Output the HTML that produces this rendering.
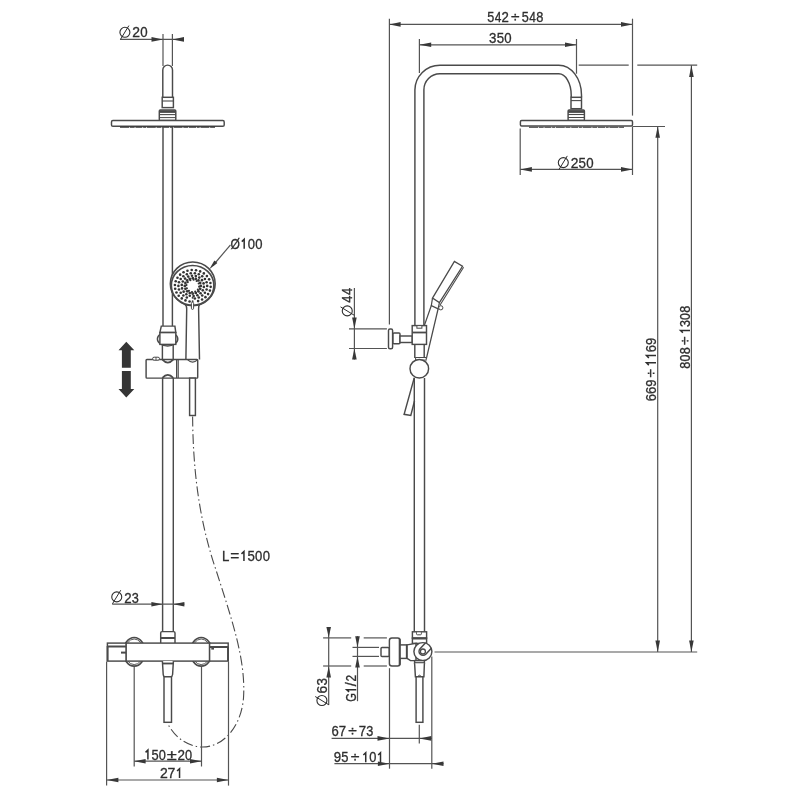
<!DOCTYPE html>
<html><head><meta charset="utf-8"><style>
html,body{margin:0;padding:0;background:#fff;}
svg{display:block;will-change:transform;font-family:"Liberation Sans",sans-serif;}
</style></head><body>
<svg width="800" height="800" viewBox="0 0 800 800">
<rect width="800" height="800" fill="#fff"/>
<line x1="120" y1="39.4" x2="184" y2="39.4" stroke="#545454" stroke-width="1.2" />
<polygon points="163,39.4 151.50,37.10 151.50,41.70" fill="#383838"/>
<polygon points="172.4,39.4 184.00,41.70 184.00,37.10" fill="#383838"/>
<line x1="163" y1="34" x2="163" y2="66" stroke="#545454" stroke-width="1.2" />
<line x1="172.4" y1="34" x2="172.4" y2="66" stroke="#545454" stroke-width="1.2" />
<g><circle cx="124.9" cy="32.3" r="5" fill="none" stroke="#2e2e2e" stroke-width="1.1"/><line x1="120.60000000000001" y1="39.199999999999996" x2="128.9" y2="25.599999999999998" stroke="#2e2e2e" stroke-width="1.0"/></g>
<g transform="translate(133 37.1)"><text x="-0.70" y="0" textLength="7.74" font-size="14.2" lengthAdjust="spacingAndGlyphs" fill="#2e2e2e" stroke="#2e2e2e" stroke-width="0.3">2</text><text x="7.14" y="0" textLength="7.38" font-size="14.2" lengthAdjust="spacingAndGlyphs" fill="#2e2e2e" stroke="#2e2e2e" stroke-width="0.3">0</text></g>
<path d="M162.8,97.5 V70 A4.85,4.85 0 0 1 172.5,70 V97.5" stroke="#4a4a4a" stroke-width="1.45" fill="none" />
<rect x="162.2" y="97.3" width="11.20" height="10.30" rx="0" stroke="#4a4a4a" stroke-width="1.45" fill="#fff"/>
<line x1="162.2" y1="101" x2="173.4" y2="101" stroke="#4a4a4a" stroke-width="1.1" />
<rect x="159.3" y="110" width="16.50" height="10.40" rx="1" stroke="#4a4a4a" stroke-width="1.45" fill="#fff"/>
<line x1="159.3" y1="111.6" x2="175.8" y2="111.6" stroke="#4a4a4a" stroke-width="2.6" />
<line x1="159.3" y1="114.6" x2="175.8" y2="114.6" stroke="#4a4a4a" stroke-width="1.1" />
<line x1="159.3" y1="117.6" x2="175.8" y2="117.6" stroke="#4a4a4a" stroke-width="1.0" />
<rect x="111.5" y="120.5" width="112.70" height="5.80" rx="1.4" stroke="#4a4a4a" stroke-width="1.45" fill="#fff"/>
<line x1="120" y1="127.1" x2="215" y2="127.1" stroke="#333" stroke-width="1.1" stroke-dasharray="9 0.7 5 0.7 7 0.7 3 0.7"/>
<line x1="163" y1="127" x2="163" y2="326" stroke="#4a4a4a" stroke-width="1.45" />
<line x1="172.4" y1="127" x2="172.4" y2="326" stroke="#4a4a4a" stroke-width="1.45" />
<ellipse cx="192.75" cy="283.8" rx="22.4" ry="21.8" stroke="#4a4a4a" stroke-width="1.6" fill="#fff"/>
<ellipse cx="192.6" cy="285.4" rx="21.3" ry="19.9" stroke="#4a4a4a" stroke-width="1.7" fill="#fff"/>
<circle cx="210.67" cy="286.85" r="1.3" fill="#333"/>
<circle cx="209.89" cy="290.62" r="1.3" fill="#333"/>
<circle cx="208.12" cy="294.12" r="1.3" fill="#333"/>
<circle cx="205.46" cy="297.14" r="1.3" fill="#333"/>
<circle cx="202.07" cy="299.50" r="1.3" fill="#333"/>
<circle cx="198.13" cy="301.08" r="1.3" fill="#333"/>
<circle cx="189.58" cy="301.54" r="1.3" fill="#333"/>
<circle cx="185.46" cy="300.40" r="1.3" fill="#333"/>
<circle cx="181.77" cy="298.42" r="1.3" fill="#333"/>
<circle cx="178.71" cy="295.71" r="1.3" fill="#333"/>
<circle cx="176.48" cy="292.43" r="1.3" fill="#333"/>
<circle cx="175.19" cy="288.77" r="1.3" fill="#333"/>
<circle cx="174.93" cy="284.95" r="1.3" fill="#333"/>
<circle cx="175.71" cy="281.18" r="1.3" fill="#333"/>
<circle cx="177.48" cy="277.68" r="1.3" fill="#333"/>
<circle cx="180.14" cy="274.66" r="1.3" fill="#333"/>
<circle cx="183.53" cy="272.30" r="1.3" fill="#333"/>
<circle cx="187.47" cy="270.72" r="1.3" fill="#333"/>
<circle cx="191.71" cy="270.03" r="1.3" fill="#333"/>
<circle cx="196.02" cy="270.26" r="1.3" fill="#333"/>
<circle cx="200.14" cy="271.40" r="1.3" fill="#333"/>
<circle cx="203.83" cy="273.38" r="1.3" fill="#333"/>
<circle cx="206.89" cy="276.09" r="1.3" fill="#333"/>
<circle cx="209.12" cy="279.37" r="1.3" fill="#333"/>
<circle cx="210.41" cy="283.03" r="1.3" fill="#333"/>
<circle cx="207.20" cy="285.90" r="1.3" fill="#333"/>
<circle cx="206.62" cy="289.51" r="1.3" fill="#333"/>
<circle cx="204.91" cy="292.82" r="1.3" fill="#333"/>
<circle cx="202.23" cy="295.57" r="1.3" fill="#333"/>
<circle cx="198.78" cy="297.54" r="1.3" fill="#333"/>
<circle cx="194.85" cy="298.57" r="1.3" fill="#333"/>
<circle cx="186.82" cy="297.54" r="1.3" fill="#333"/>
<circle cx="183.37" cy="295.57" r="1.3" fill="#333"/>
<circle cx="180.69" cy="292.82" r="1.3" fill="#333"/>
<circle cx="178.98" cy="289.51" r="1.3" fill="#333"/>
<circle cx="178.40" cy="285.90" r="1.3" fill="#333"/>
<circle cx="178.98" cy="282.29" r="1.3" fill="#333"/>
<circle cx="180.69" cy="278.98" r="1.3" fill="#333"/>
<circle cx="183.37" cy="276.23" r="1.3" fill="#333"/>
<circle cx="186.82" cy="274.26" r="1.3" fill="#333"/>
<circle cx="190.75" cy="273.23" r="1.3" fill="#333"/>
<circle cx="194.85" cy="273.23" r="1.3" fill="#333"/>
<circle cx="198.78" cy="274.26" r="1.3" fill="#333"/>
<circle cx="202.23" cy="276.23" r="1.3" fill="#333"/>
<circle cx="204.91" cy="278.98" r="1.3" fill="#333"/>
<circle cx="206.62" cy="282.29" r="1.3" fill="#333"/>
<circle cx="203.84" cy="286.92" r="1.3" fill="#333"/>
<circle cx="202.80" cy="290.33" r="1.3" fill="#333"/>
<circle cx="200.55" cy="293.20" r="1.3" fill="#333"/>
<circle cx="197.36" cy="295.20" r="1.3" fill="#333"/>
<circle cx="193.63" cy="296.07" r="1.3" fill="#333"/>
<circle cx="189.79" cy="295.72" r="1.3" fill="#333"/>
<circle cx="186.32" cy="294.18" r="1.3" fill="#333"/>
<circle cx="183.63" cy="291.64" r="1.3" fill="#333"/>
<circle cx="182.04" cy="288.41" r="1.3" fill="#333"/>
<circle cx="181.76" cy="284.88" r="1.3" fill="#333"/>
<circle cx="182.80" cy="281.47" r="1.3" fill="#333"/>
<circle cx="185.05" cy="278.60" r="1.3" fill="#333"/>
<circle cx="188.24" cy="276.60" r="1.3" fill="#333"/>
<circle cx="191.97" cy="275.73" r="1.3" fill="#333"/>
<circle cx="195.81" cy="276.08" r="1.3" fill="#333"/>
<circle cx="199.28" cy="277.62" r="1.3" fill="#333"/>
<circle cx="201.97" cy="280.16" r="1.3" fill="#333"/>
<circle cx="203.56" cy="283.39" r="1.3" fill="#333"/>
<circle cx="200.80" cy="285.90" r="1.35" fill="#333"/>
<circle cx="200.19" cy="288.85" r="1.35" fill="#333"/>
<circle cx="198.46" cy="291.34" r="1.35" fill="#333"/>
<circle cx="195.86" cy="293.01" r="1.35" fill="#333"/>
<circle cx="192.80" cy="293.60" r="1.35" fill="#333"/>
<circle cx="189.74" cy="293.01" r="1.35" fill="#333"/>
<circle cx="187.14" cy="291.34" r="1.35" fill="#333"/>
<circle cx="185.41" cy="288.85" r="1.35" fill="#333"/>
<circle cx="184.80" cy="285.90" r="1.35" fill="#333"/>
<circle cx="185.41" cy="282.95" r="1.35" fill="#333"/>
<circle cx="187.14" cy="280.46" r="1.35" fill="#333"/>
<circle cx="189.74" cy="278.79" r="1.35" fill="#333"/>
<circle cx="192.80" cy="278.20" r="1.35" fill="#333"/>
<circle cx="195.86" cy="278.79" r="1.35" fill="#333"/>
<circle cx="198.46" cy="280.46" r="1.35" fill="#333"/>
<circle cx="200.19" cy="282.95" r="1.35" fill="#333"/>
<circle cx="199.15" cy="286.70" r="1.1" fill="#333"/>
<circle cx="197.88" cy="289.67" r="1.1" fill="#333"/>
<circle cx="195.25" cy="291.63" r="1.1" fill="#333"/>
<circle cx="191.97" cy="292.05" r="1.1" fill="#333"/>
<circle cx="188.91" cy="290.82" r="1.1" fill="#333"/>
<circle cx="186.89" cy="288.28" r="1.1" fill="#333"/>
<circle cx="186.45" cy="285.10" r="1.1" fill="#333"/>
<circle cx="187.72" cy="282.13" r="1.1" fill="#333"/>
<circle cx="190.35" cy="280.17" r="1.1" fill="#333"/>
<circle cx="193.63" cy="279.75" r="1.1" fill="#333"/>
<circle cx="196.69" cy="280.98" r="1.1" fill="#333"/>
<circle cx="198.71" cy="283.52" r="1.1" fill="#333"/>
<circle cx="192.6" cy="293.8" r="1.0" fill="#444"/>
<circle cx="192.6" cy="297.8" r="1.0" fill="#444"/>
<circle cx="192.6" cy="301.2" r="1.0" fill="#444"/>
<path d="M184.9,304.4 Q186.8,305.5 186.7,309 L185.9,359.4" stroke="#4a4a4a" stroke-width="1.45" fill="none" />
<path d="M199.9,304.3 Q198.5,305.5 198.6,309 L199.5,359.4" stroke="#4a4a4a" stroke-width="1.45" fill="none" />
<rect x="191.4" y="302.2" width="2.20" height="7.20" rx="1.1" stroke="#4a4a4a" stroke-width="1.0" fill="#fff"/>
<line x1="230.5" y1="244.8" x2="213" y2="265.5" stroke="#545454" stroke-width="1.2" />
<polygon points="209.3,269.3 217.40,263.12 214.40,260.48" fill="#383838"/>
<g transform="translate(231 248.8)"><text x="-0.42" y="0" textLength="9.41" font-size="14.2" lengthAdjust="spacingAndGlyphs" fill="#2e2e2e" stroke="#2e2e2e" stroke-width="0.3">Ø</text><path d="M13.19,0 V-9.45 L10.78,-7.15" stroke="#2e2e2e" stroke-width="1.5" fill="none" stroke-linejoin="miter"/><text x="16.76" y="0" textLength="7.24" font-size="14.2" lengthAdjust="spacingAndGlyphs" fill="#2e2e2e" stroke="#2e2e2e" stroke-width="0.3">0</text><text x="24.27" y="0" textLength="7.24" font-size="14.2" lengthAdjust="spacingAndGlyphs" fill="#2e2e2e" stroke="#2e2e2e" stroke-width="0.3">0</text></g>
<ellipse cx="167.6" cy="339.1" rx="10.2" ry="6.9" stroke="#4a4a4a" stroke-width="1.45" fill="#fff"/>
<path d="M161.3,326.1 H174.9 L175.8,332.6 H159.9 Z" stroke="#4a4a4a" stroke-width="1.45" fill="#fff" />
<line x1="159.9" y1="332.6" x2="175.8" y2="332.6" stroke="#4a4a4a" stroke-width="1.8" />
<rect x="159.9" y="332.6" width="15.90" height="11.80" rx="0" stroke="#4a4a4a" stroke-width="1.45" fill="#fff"/>
<line x1="162.4" y1="344.4" x2="162.4" y2="359.5" stroke="#4a4a4a" stroke-width="1.45" />
<line x1="173.2" y1="344.4" x2="173.2" y2="359.5" stroke="#4a4a4a" stroke-width="1.45" />
<rect x="146.1" y="359.4" width="51.60" height="18.70" rx="0.8" stroke="#4a4a4a" stroke-width="1.45" fill="#fff"/>
<line x1="176.6" y1="359.4" x2="176.6" y2="378.1" stroke="#4a4a4a" stroke-width="1.2" />
<line x1="178.2" y1="359.4" x2="178.2" y2="378.1" stroke="#4a4a4a" stroke-width="1.2" />
<path d="M162.4,359.6 Q167.8,365.5 173.2,359.6" stroke="#4a4a4a" stroke-width="1.8" fill="none" />
<path d="M162.4,377.9 Q167.8,372 173.2,377.9" stroke="#4a4a4a" stroke-width="1.8" fill="none" />
<rect x="152.6" y="357.2" width="6.90" height="3.00" rx="1.5" stroke="#4a4a4a" stroke-width="1.0" fill="#fff"/>
<line x1="156" y1="357.2" x2="156" y2="360.2" stroke="#4a4a4a" stroke-width="0.9" />
<path d="M187.5,359.6 Q192.6,364.6 197.7,359.6" stroke="#4a4a4a" stroke-width="1.1" fill="none" />
<line x1="162.6" y1="378.1" x2="162.6" y2="631.6" stroke="#4a4a4a" stroke-width="1.45" />
<line x1="173.3" y1="378.1" x2="173.3" y2="631.6" stroke="#4a4a4a" stroke-width="1.45" />
<rect x="189.6" y="378.1" width="5.80" height="37.40" rx="0" stroke="#4a4a4a" stroke-width="1.45" fill="#fff"/>
<polygon points="126.3,341.7 134.3,350.3 130.8,350.3 130.8,367.8 121.9,367.8 121.9,350.3 118.5,350.3" fill="#353535"/>
<polygon points="126.3,397.6 134.3,389.1 130.8,389.1 130.8,370.9 121.9,370.9 121.9,389.1 118.5,389.1" fill="#353535"/>
<path d="M192.6,416.5 C193,470 199,520 216,570 C232,620 246,660 243.5,698 C241,728 222,748 201,747 C186,746 174,736 168,724" stroke="#4a4a4a" stroke-width="1.1" fill="none" stroke-dasharray="10 3 1.5 3"/>
<g transform="translate(223 561)"><text x="-1.08" y="0" textLength="7.35" font-size="14.2" lengthAdjust="spacingAndGlyphs" fill="#2e2e2e" stroke="#2e2e2e" stroke-width="0.3">L</text><text x="7.23" y="0" textLength="9.08" font-size="14.2" lengthAdjust="spacingAndGlyphs" fill="#2e2e2e" stroke="#2e2e2e" stroke-width="0.3">=</text><path d="M20.94,0 V-9.45 L18.50,-7.15" stroke="#2e2e2e" stroke-width="1.5" fill="none" stroke-linejoin="miter"/><text x="24.51" y="0" textLength="7.34" font-size="14.2" lengthAdjust="spacingAndGlyphs" fill="#2e2e2e" stroke="#2e2e2e" stroke-width="0.3">5</text><text x="32.08" y="0" textLength="7.28" font-size="14.2" lengthAdjust="spacingAndGlyphs" fill="#2e2e2e" stroke="#2e2e2e" stroke-width="0.3">0</text><text x="39.63" y="0" textLength="7.28" font-size="14.2" lengthAdjust="spacingAndGlyphs" fill="#2e2e2e" stroke="#2e2e2e" stroke-width="0.3">0</text></g>
<line x1="112.2" y1="604.2" x2="184.4" y2="604.2" stroke="#545454" stroke-width="1.2" />
<polygon points="162.6,604.2 151.40,601.90 151.40,606.50" fill="#383838"/>
<polygon points="173.3,604.2 184.40,606.50 184.40,601.90" fill="#383838"/>
<g><circle cx="116.75" cy="596.9" r="5" fill="none" stroke="#2e2e2e" stroke-width="1.1"/><line x1="112.45" y1="603.8" x2="120.75" y2="590.1999999999999" stroke="#2e2e2e" stroke-width="1.0"/></g>
<g transform="translate(125 602.7)"><text x="-0.67" y="0" textLength="7.36" font-size="14.2" lengthAdjust="spacingAndGlyphs" fill="#2e2e2e" stroke="#2e2e2e" stroke-width="0.3">2</text><text x="6.79" y="0" textLength="7.07" font-size="14.2" lengthAdjust="spacingAndGlyphs" fill="#2e2e2e" stroke="#2e2e2e" stroke-width="0.3">3</text></g>
<path d="M160.7,643 V633 Q160.7,631.6 162,631.6 H173.6 Q175,631.6 175,633 V643" stroke="#4a4a4a" stroke-width="1.45" fill="#fff" />
<line x1="160.7" y1="638" x2="175" y2="638" stroke="#4a4a4a" stroke-width="2.0" />
<ellipse cx="134.2" cy="651.8" rx="10.8" ry="14.3" stroke="#4a4a4a" stroke-width="1.7" fill="#fff"/>
<ellipse cx="134.2" cy="651.8" rx="9.3" ry="12.8" stroke="#4a4a4a" stroke-width="0.9" fill="#fff"/>
<ellipse cx="201.2" cy="651.8" rx="10.8" ry="14.3" stroke="#4a4a4a" stroke-width="1.7" fill="#fff"/>
<ellipse cx="201.2" cy="651.8" rx="9.3" ry="12.8" stroke="#4a4a4a" stroke-width="0.9" fill="#fff"/>
<rect x="126" y="643.1" width="83.60" height="18.00" rx="0" stroke="#4a4a4a" stroke-width="1.45" fill="#fff"/>
<rect x="107.4" y="643.1" width="18.60" height="18.00" rx="0" stroke="#4a4a4a" stroke-width="1.45" fill="#fff"/>
<line x1="107.4" y1="646.5" x2="126" y2="646.5" stroke="#4a4a4a" stroke-width="2.0" />
<line x1="121" y1="652.6" x2="126" y2="652.6" stroke="#4a4a4a" stroke-width="2.0" />
<line x1="107.6" y1="646" x2="107.6" y2="661" stroke="#4a4a4a" stroke-width="1.9" />
<rect x="209.6" y="643.1" width="18.60" height="18.00" rx="0" stroke="#4a4a4a" stroke-width="1.45" fill="#fff"/>
<line x1="209.6" y1="647" x2="228.2" y2="647" stroke="#4a4a4a" stroke-width="2.0" />
<line x1="228" y1="647" x2="228" y2="661.1" stroke="#4a4a4a" stroke-width="1.9" />
<line x1="211.3" y1="648.8" x2="214" y2="648.8" stroke="#4a4a4a" stroke-width="1.6" />
<path d="M162.4,661.1 L163.2,674.5 Q163.5,676.8 165,676.8 H170.8 Q172.2,676.8 172.6,674.5 L173.4,661.1" stroke="#4a4a4a" stroke-width="1.45" fill="#fff" />
<line x1="162.6" y1="663.5" x2="173.2" y2="663.5" stroke="#4a4a4a" stroke-width="1.8" />
<rect x="164" y="676.8" width="7.50" height="45.50" rx="0" stroke="#4a4a4a" stroke-width="1.45" fill="#fff"/>
<line x1="106.6" y1="661.5" x2="106.6" y2="785.6" stroke="#545454" stroke-width="1.2" />
<line x1="228.5" y1="661.5" x2="228.5" y2="785.6" stroke="#545454" stroke-width="1.2" />
<line x1="134.2" y1="666.5" x2="134.2" y2="766.5" stroke="#545454" stroke-width="1.2" />
<line x1="201.5" y1="666.5" x2="201.5" y2="766.5" stroke="#545454" stroke-width="1.2" />
<line x1="134.2" y1="761.2" x2="201.5" y2="761.2" stroke="#545454" stroke-width="1.2" />
<polygon points="134.2,761.2 145.60,763.50 145.60,758.90" fill="#383838"/>
<polygon points="201.5,761.2 190.00,758.90 190.00,763.50" fill="#383838"/>
<g transform="translate(145.5 759.5)"><path d="M2.41,0 V-9.45 L0.05,-7.15" stroke="#2e2e2e" stroke-width="1.5" fill="none" stroke-linejoin="miter"/><text x="5.90" y="0" textLength="7.16" font-size="14.2" lengthAdjust="spacingAndGlyphs" fill="#2e2e2e" stroke="#2e2e2e" stroke-width="0.3">5</text><text x="13.29" y="0" textLength="7.10" font-size="14.2" lengthAdjust="spacingAndGlyphs" fill="#2e2e2e" stroke="#2e2e2e" stroke-width="0.3">0</text><text x="21.31" y="0" textLength="9.99" font-size="14.2" lengthAdjust="spacingAndGlyphs" fill="#2e2e2e" stroke="#2e2e2e" stroke-width="0.3">±</text><text x="32.06" y="0" textLength="7.45" font-size="14.2" lengthAdjust="spacingAndGlyphs" fill="#2e2e2e" stroke="#2e2e2e" stroke-width="0.3">2</text><text x="39.60" y="0" textLength="7.10" font-size="14.2" lengthAdjust="spacingAndGlyphs" fill="#2e2e2e" stroke="#2e2e2e" stroke-width="0.3">0</text></g>
<line x1="106.6" y1="780" x2="228.5" y2="780" stroke="#545454" stroke-width="1.2" />
<polygon points="106.6,780 118.40,782.30 118.40,777.70" fill="#383838"/>
<polygon points="228.5,780 216.90,777.70 216.90,782.30" fill="#383838"/>
<g transform="translate(160.6 778.1)"><text x="-0.70" y="0" textLength="7.79" font-size="14.2" lengthAdjust="spacingAndGlyphs" fill="#2e2e2e" stroke="#2e2e2e" stroke-width="0.3">2</text><text x="6.98" y="0" textLength="7.81" font-size="14.2" lengthAdjust="spacingAndGlyphs" fill="#2e2e2e" stroke="#2e2e2e" stroke-width="0.3">7</text><path d="M18.95,0 V-9.45 L16.45,-7.15" stroke="#2e2e2e" stroke-width="1.5" fill="none" stroke-linejoin="miter"/></g>
<line x1="389.4" y1="18.7" x2="389.4" y2="324.4" stroke="#545454" stroke-width="1.2" />
<line x1="389.4" y1="24.4" x2="632.5" y2="24.4" stroke="#545454" stroke-width="1.2" />
<polygon points="389.4,24.4 400.60,26.70 400.60,22.10" fill="#383838"/>
<polygon points="632.5,24.4 621.00,22.10 621.00,26.70" fill="#383838"/>
<g transform="translate(487.7 22.4)"><text x="-0.51" y="0" textLength="7.03" font-size="14.2" lengthAdjust="spacingAndGlyphs" fill="#2e2e2e" stroke="#2e2e2e" stroke-width="0.3">5</text><text x="6.96" y="0" textLength="6.62" font-size="14.2" lengthAdjust="spacingAndGlyphs" fill="#2e2e2e" stroke="#2e2e2e" stroke-width="0.3">4</text><text x="13.81" y="0" textLength="7.32" font-size="14.2" lengthAdjust="spacingAndGlyphs" fill="#2e2e2e" stroke="#2e2e2e" stroke-width="0.3">2</text><text x="23.28" y="0" textLength="8.52" font-size="14.2" lengthAdjust="spacingAndGlyphs" fill="#2e2e2e" stroke="#2e2e2e" stroke-width="0.3">÷</text><text x="34.12" y="0" textLength="7.03" font-size="14.2" lengthAdjust="spacingAndGlyphs" fill="#2e2e2e" stroke="#2e2e2e" stroke-width="0.3">5</text><text x="41.59" y="0" textLength="6.62" font-size="14.2" lengthAdjust="spacingAndGlyphs" fill="#2e2e2e" stroke="#2e2e2e" stroke-width="0.3">4</text><text x="48.55" y="0" textLength="7.11" font-size="14.2" lengthAdjust="spacingAndGlyphs" fill="#2e2e2e" stroke="#2e2e2e" stroke-width="0.3">8</text></g>
<line x1="632.5" y1="18.7" x2="632.5" y2="115.6" stroke="#545454" stroke-width="1.2" />
<line x1="632.5" y1="126.8" x2="632.5" y2="175" stroke="#545454" stroke-width="1.2" />
<line x1="419.4" y1="39" x2="419.4" y2="73" stroke="#545454" stroke-width="1.2" />
<line x1="576.5" y1="39" x2="576.5" y2="73.7" stroke="#545454" stroke-width="1.2" />
<line x1="419.4" y1="44.8" x2="576.5" y2="44.8" stroke="#545454" stroke-width="1.2" />
<polygon points="419.4,44.8 431.20,47.10 431.20,42.50" fill="#383838"/>
<polygon points="576.5,44.8 565.00,42.50 565.00,47.10" fill="#383838"/>
<g transform="translate(489.6 42.6)"><text x="-0.51" y="0" textLength="7.39" font-size="14.2" lengthAdjust="spacingAndGlyphs" fill="#2e2e2e" stroke="#2e2e2e" stroke-width="0.3">3</text><text x="7.07" y="0" textLength="7.39" font-size="14.2" lengthAdjust="spacingAndGlyphs" fill="#2e2e2e" stroke="#2e2e2e" stroke-width="0.3">5</text><text x="14.69" y="0" textLength="7.33" font-size="14.2" lengthAdjust="spacingAndGlyphs" fill="#2e2e2e" stroke="#2e2e2e" stroke-width="0.3">0</text></g>
<path d="M414.9,325.6 V90 A25,25 0 0 1 439.9,65.2 H558.8 A22.7,30 0 0 1 581.5,95 V97.3" stroke="#4a4a4a" stroke-width="1.45" fill="none" />
<path d="M423.9,325.6 V90 A16,16 0 0 1 439.9,73.8 H558.8 A12.4,21.2 0 0 1 571.2,95 V97.3" stroke="#4a4a4a" stroke-width="1.45" fill="none" />
<line x1="578.7" y1="65.2" x2="628.7" y2="65.2" stroke="#545454" stroke-width="1.2" />
<line x1="637.3" y1="65.2" x2="697.2" y2="65.2" stroke="#545454" stroke-width="1.2" />
<rect x="571" y="97.3" width="10.50" height="11.40" rx="0" stroke="#4a4a4a" stroke-width="1.45" fill="#fff"/>
<line x1="571" y1="100.6" x2="581.5" y2="100.6" stroke="#4a4a4a" stroke-width="1.1" />
<rect x="568.1" y="110" width="16.30" height="10.50" rx="1" stroke="#4a4a4a" stroke-width="1.45" fill="#fff"/>
<line x1="568.1" y1="111.6" x2="584.4" y2="111.6" stroke="#4a4a4a" stroke-width="2.6" />
<line x1="568.1" y1="114.5" x2="584.4" y2="114.5" stroke="#4a4a4a" stroke-width="1.1" />
<line x1="568.1" y1="117.5" x2="584.4" y2="117.5" stroke="#4a4a4a" stroke-width="1.0" />
<rect x="520.4" y="120.5" width="112.10" height="5.40" rx="1.2" stroke="#4a4a4a" stroke-width="1.45" fill="#fff"/>
<line x1="529" y1="127.2" x2="624" y2="127.2" stroke="#333" stroke-width="1.1" stroke-dasharray="9 0.7 5 0.7 7 0.7 3 0.7"/>
<line x1="632.5" y1="126.5" x2="665" y2="126.5" stroke="#545454" stroke-width="1.2" />
<line x1="520.2" y1="128.5" x2="520.2" y2="175" stroke="#545454" stroke-width="1.2" />
<line x1="520.2" y1="169.4" x2="632.5" y2="169.4" stroke="#545454" stroke-width="1.2" />
<polygon points="520.2,169.4 531.90,171.70 531.90,167.10" fill="#383838"/>
<polygon points="632.5,169.4 621.00,167.10 621.00,171.70" fill="#383838"/>
<g><circle cx="563.3" cy="162.6" r="5" fill="none" stroke="#2e2e2e" stroke-width="1.1"/><line x1="559.0" y1="169.5" x2="567.3" y2="155.9" stroke="#2e2e2e" stroke-width="1.0"/></g>
<g transform="translate(571.5 167.5)"><text x="-0.70" y="0" textLength="7.72" font-size="14.2" lengthAdjust="spacingAndGlyphs" fill="#2e2e2e" stroke="#2e2e2e" stroke-width="0.3">2</text><text x="7.10" y="0" textLength="7.42" font-size="14.2" lengthAdjust="spacingAndGlyphs" fill="#2e2e2e" stroke="#2e2e2e" stroke-width="0.3">5</text><text x="14.76" y="0" textLength="7.36" font-size="14.2" lengthAdjust="spacingAndGlyphs" fill="#2e2e2e" stroke="#2e2e2e" stroke-width="0.3">0</text></g>
<line x1="657.7" y1="126.5" x2="657.7" y2="652" stroke="#545454" stroke-width="1.2" />
<polygon points="657.7,126.5 655.40,137.80 660.00,137.80" fill="#383838"/>
<polygon points="657.7,652 660.00,640.60 655.40,640.60" fill="#383838"/>
<line x1="691.4" y1="65.2" x2="691.4" y2="652" stroke="#545454" stroke-width="1.2" />
<polygon points="691.4,65.2 689.10,76.90 693.70,76.90" fill="#383838"/>
<polygon points="691.4,652 693.70,640.60 689.10,640.60" fill="#383838"/>
<line x1="434.5" y1="652" x2="697.2" y2="652" stroke="#545454" stroke-width="1.2" />
<g transform="translate(656 400.6) rotate(-90)"><text x="-0.66" y="0" textLength="7.20" font-size="14.2" lengthAdjust="spacingAndGlyphs" fill="#2e2e2e" stroke="#2e2e2e" stroke-width="0.3">6</text><text x="6.55" y="0" textLength="7.20" font-size="14.2" lengthAdjust="spacingAndGlyphs" fill="#2e2e2e" stroke="#2e2e2e" stroke-width="0.3">6</text><text x="13.81" y="0" textLength="7.19" font-size="14.2" lengthAdjust="spacingAndGlyphs" fill="#2e2e2e" stroke="#2e2e2e" stroke-width="0.3">9</text><text x="23.20" y="0" textLength="8.49" font-size="14.2" lengthAdjust="spacingAndGlyphs" fill="#2e2e2e" stroke="#2e2e2e" stroke-width="0.3">÷</text><path d="M37.77,0 V-9.45 L35.48,-7.15" stroke="#2e2e2e" stroke-width="1.5" fill="none" stroke-linejoin="miter"/><path d="M44.98,0 V-9.45 L42.69,-7.15" stroke="#2e2e2e" stroke-width="1.5" fill="none" stroke-linejoin="miter"/><text x="48.26" y="0" textLength="7.20" font-size="14.2" lengthAdjust="spacingAndGlyphs" fill="#2e2e2e" stroke="#2e2e2e" stroke-width="0.3">6</text><text x="55.52" y="0" textLength="7.19" font-size="14.2" lengthAdjust="spacingAndGlyphs" fill="#2e2e2e" stroke="#2e2e2e" stroke-width="0.3">9</text></g>
<g transform="translate(690 368.1) rotate(-90)"><text x="-0.55" y="0" textLength="7.05" font-size="14.2" lengthAdjust="spacingAndGlyphs" fill="#2e2e2e" stroke="#2e2e2e" stroke-width="0.3">8</text><text x="6.69" y="0" textLength="6.92" font-size="14.2" lengthAdjust="spacingAndGlyphs" fill="#2e2e2e" stroke="#2e2e2e" stroke-width="0.3">0</text><text x="13.81" y="0" textLength="7.05" font-size="14.2" lengthAdjust="spacingAndGlyphs" fill="#2e2e2e" stroke="#2e2e2e" stroke-width="0.3">8</text><text x="23.10" y="0" textLength="8.46" font-size="14.2" lengthAdjust="spacingAndGlyphs" fill="#2e2e2e" stroke="#2e2e2e" stroke-width="0.3">÷</text><path d="M37.61,0 V-9.45 L35.33,-7.15" stroke="#2e2e2e" stroke-width="1.5" fill="none" stroke-linejoin="miter"/><text x="41.06" y="0" textLength="6.98" font-size="14.2" lengthAdjust="spacingAndGlyphs" fill="#2e2e2e" stroke="#2e2e2e" stroke-width="0.3">3</text><text x="48.23" y="0" textLength="6.92" font-size="14.2" lengthAdjust="spacingAndGlyphs" fill="#2e2e2e" stroke="#2e2e2e" stroke-width="0.3">0</text><text x="55.35" y="0" textLength="7.05" font-size="14.2" lengthAdjust="spacingAndGlyphs" fill="#2e2e2e" stroke="#2e2e2e" stroke-width="0.3">8</text></g>
<line x1="354.4" y1="288" x2="354.4" y2="359.4" stroke="#545454" stroke-width="1.2" />
<polygon points="354.4,328.8 356.70,317.50 352.10,317.50" fill="#383838"/>
<polygon points="354.4,348.5 352.10,359.40 356.70,359.40" fill="#383838"/>
<line x1="349" y1="328.8" x2="386.9" y2="328.8" stroke="#545454" stroke-width="1.2" />
<line x1="349" y1="348.5" x2="386.9" y2="348.5" stroke="#545454" stroke-width="1.2" />
<g transform="rotate(-90 347.25 310.9)"><circle cx="347.25" cy="310.9" r="5" fill="none" stroke="#2e2e2e" stroke-width="1.1"/><line x1="342.95" y1="317.79999999999995" x2="351.25" y2="304.2" stroke="#2e2e2e" stroke-width="1.0"/></g>
<g transform="translate(352 302.5) rotate(-90)"><text x="-0.29" y="0" textLength="7.13" font-size="14.2" lengthAdjust="spacingAndGlyphs" fill="#2e2e2e" stroke="#2e2e2e" stroke-width="0.3">4</text><text x="7.50" y="0" textLength="7.13" font-size="14.2" lengthAdjust="spacingAndGlyphs" fill="#2e2e2e" stroke="#2e2e2e" stroke-width="0.3">4</text></g>
<rect x="388.5" y="329" width="4.10" height="19.80" rx="1.5" stroke="#4a4a4a" stroke-width="1.45" fill="#fff"/>
<rect x="393" y="333" width="7.00" height="10.80" rx="1" stroke="#4a4a4a" stroke-width="1.45" fill="#fff"/>
<rect x="400" y="336" width="12.30" height="6.50" rx="0" stroke="#4a4a4a" stroke-width="1.45" fill="#fff"/>
<path d="M432.5,298.1 L454.4,261.5 L462.5,266.3 L439.4,302.5 Z" stroke="#4a4a4a" stroke-width="1.3" fill="#fff" />
<line x1="463.6" y1="267.2" x2="439.9" y2="305.2" stroke="#4a4a4a" stroke-width="1.1" />
<path d="M432.5,298.1 L431.3,305.6 L438.1,308.8 L439.4,302.5" stroke="#4a4a4a" stroke-width="1.2" fill="none" />
<path d="M424.3,325.6 L431.3,305.6 M438.1,308.8 L426.3,358.8" stroke="#4a4a4a" stroke-width="1.3" fill="none" />
<circle cx="440.8" cy="307.8" r="2.1" stroke="#4a4a4a" stroke-width="1.0" fill="#fff"/>
<rect x="412.2" y="325.6" width="14.30" height="18.80" rx="0" stroke="#4a4a4a" stroke-width="1.45" fill="#fff"/>
<line x1="412.2" y1="332.5" x2="426.5" y2="332.5" stroke="#4a4a4a" stroke-width="1.8" />
<rect x="416.9" y="325.6" width="5.00" height="2.60" rx="0" stroke="#4a4a4a" stroke-width="1.0" fill="#fff"/>
<line x1="414.8" y1="344.4" x2="414.8" y2="358" stroke="#4a4a4a" stroke-width="1.45" />
<line x1="424.2" y1="344.4" x2="424.2" y2="358" stroke="#4a4a4a" stroke-width="1.45" />
<rect x="415.6" y="357.5" width="10.60" height="2.60" rx="0" stroke="#4a4a4a" stroke-width="1.0" fill="#fff"/>
<circle cx="419.3" cy="368.7" r="9.3" stroke="#4a4a4a" stroke-width="1.45" fill="#fff"/>
<path d="M414.3,377.6 L404.1,414.3 L410.8,415.4 L414.5,401" stroke="#4a4a4a" stroke-width="1.45" fill="#fff" />
<line x1="414.3" y1="378" x2="414.3" y2="631.8" stroke="#4a4a4a" stroke-width="1.45" />
<line x1="424.5" y1="378" x2="424.5" y2="631.8" stroke="#4a4a4a" stroke-width="1.45" />
<rect x="412.4" y="631.8" width="14.20" height="6.30" rx="0" stroke="#4a4a4a" stroke-width="1.45" fill="#fff"/>
<rect x="416.5" y="631.8" width="4.90" height="3.00" rx="1" stroke="#4a4a4a" stroke-width="1.0" fill="#fff"/>
<rect x="412.4" y="638.1" width="14.20" height="5.30" rx="0" stroke="#4a4a4a" stroke-width="1.45" fill="#fff"/>
<line x1="412.4" y1="638.6" x2="426.6" y2="638.6" stroke="#4a4a4a" stroke-width="1.8" />
<rect x="389.4" y="637.9" width="10.70" height="28.10" rx="2.5" stroke="#4a4a4a" stroke-width="1.45" fill="#fff"/>
<line x1="399.6" y1="639" x2="399.6" y2="665" stroke="#4a4a4a" stroke-width="1.8" />
<rect x="381" y="647.4" width="8.10" height="9.00" rx="1" stroke="#4a4a4a" stroke-width="1.45" fill="#fff"/>
<rect x="400.1" y="644.9" width="7.00" height="13.50" rx="0" stroke="#4a4a4a" stroke-width="1.45" fill="#fff"/>
<line x1="406.8" y1="644.9" x2="406.8" y2="658.4" stroke="#4a4a4a" stroke-width="1.9" />
<path d="M407.1,644.9 L416,643.4 V660.6 H410.5 L407.1,658.4 Z" stroke="#4a4a4a" stroke-width="1.45" fill="#fff" />
<circle cx="422.9" cy="651.6" r="9" stroke="#4a4a4a" stroke-width="1.45" fill="#fff"/>
<path d="M425.62,642.84 L420.04,648.85 A3.9,3.9 0 0 0 425.76,654.15 L431.33,648.14" stroke="#4a4a4a" stroke-width="1.5" fill="none" />
<circle cx="422.9" cy="651.5" r="2.5" stroke="#4a4a4a" stroke-width="1.3" fill="#fff"/>
<rect x="414.6" y="660.6" width="9.80" height="2.70" rx="0" stroke="#4a4a4a" stroke-width="1.45" fill="#fff"/>
<line x1="414.6" y1="663" x2="424.4" y2="663" stroke="#4a4a4a" stroke-width="1.6" />
<path d="M414.6,663.3 L415.4,676.8 H423.9 L424.4,663.3" stroke="#4a4a4a" stroke-width="1.45" fill="#fff" />
<path d="M417.6,676.8 Q419.5,673.6 421.4,676.8" stroke="#4a4a4a" stroke-width="1.0" fill="none" />
<rect x="416.1" y="676.8" width="6.80" height="45.50" rx="0" stroke="#4a4a4a" stroke-width="1.45" fill="#fff"/>
<line x1="328.7" y1="626.9" x2="328.7" y2="705" stroke="#545454" stroke-width="1.2" />
<polygon points="328.7,637.6 331.00,626.90 326.40,626.90" fill="#383838"/>
<polygon points="328.7,666.2 326.40,677.50 331.00,677.50" fill="#383838"/>
<line x1="323.1" y1="637.9" x2="351.2" y2="637.9" stroke="#545454" stroke-width="1.2" />
<line x1="363.7" y1="637.9" x2="386.9" y2="637.9" stroke="#545454" stroke-width="1.2" />
<line x1="323.1" y1="666" x2="351.2" y2="666" stroke="#545454" stroke-width="1.2" />
<line x1="363.7" y1="666" x2="386.9" y2="666" stroke="#545454" stroke-width="1.2" />
<g transform="rotate(-90 321.9 700.5)"><circle cx="321.9" cy="700.5" r="5" fill="none" stroke="#2e2e2e" stroke-width="1.1"/><line x1="317.59999999999997" y1="707.4" x2="325.9" y2="693.8" stroke="#2e2e2e" stroke-width="1.0"/></g>
<g transform="translate(327 692.75) rotate(-90)"><text x="-0.70" y="0" textLength="7.65" font-size="14.2" lengthAdjust="spacingAndGlyphs" fill="#2e2e2e" stroke="#2e2e2e" stroke-width="0.3">6</text><text x="7.15" y="0" textLength="7.44" font-size="14.2" lengthAdjust="spacingAndGlyphs" fill="#2e2e2e" stroke="#2e2e2e" stroke-width="0.3">3</text></g>
<line x1="357.5" y1="636.2" x2="357.5" y2="701.2" stroke="#545454" stroke-width="1.2" />
<polygon points="357.5,647.2 359.80,636.20 355.20,636.20" fill="#383838"/>
<polygon points="357.5,656.4 355.20,667.50 359.80,667.50" fill="#383838"/>
<line x1="352.5" y1="647.4" x2="379" y2="647.4" stroke="#545454" stroke-width="1.2" />
<line x1="352.5" y1="656.4" x2="379" y2="656.4" stroke="#545454" stroke-width="1.2" />
<g transform="translate(356.25 701.25) rotate(-90)"><text x="-0.56" y="0" textLength="8.67" font-size="14.2" lengthAdjust="spacingAndGlyphs" fill="#2e2e2e" stroke="#2e2e2e" stroke-width="0.3">G</text><path d="M11.38,0 V-9.45 L9.38,-7.15" stroke="#2e2e2e" stroke-width="1.5" fill="none" stroke-linejoin="miter"/><text x="15.02" y="0" textLength="4.10" font-size="14.2" lengthAdjust="spacingAndGlyphs" fill="#2e2e2e" stroke="#2e2e2e" stroke-width="0.3">/</text><text x="19.64" y="0" textLength="6.60" font-size="14.2" lengthAdjust="spacingAndGlyphs" fill="#2e2e2e" stroke="#2e2e2e" stroke-width="0.3">2</text></g>
<line x1="389.5" y1="668.2" x2="389.5" y2="768.7" stroke="#545454" stroke-width="1.2" />
<line x1="431.8" y1="656.5" x2="431.8" y2="768.7" stroke="#545454" stroke-width="1.2" />
<line x1="419.3" y1="724.7" x2="419.3" y2="743.4" stroke="#545454" stroke-width="1.2" />
<line x1="331.6" y1="738.4" x2="431.8" y2="738.4" stroke="#545454" stroke-width="1.2" />
<polygon points="389.5,738.4 377.50,736.10 377.50,740.70" fill="#383838"/>
<polygon points="419.3,738.4 431.30,740.70 431.30,736.10" fill="#383838"/>
<g transform="translate(332.1 736)"><text x="-0.66" y="0" textLength="7.24" font-size="14.2" lengthAdjust="spacingAndGlyphs" fill="#2e2e2e" stroke="#2e2e2e" stroke-width="0.3">6</text><text x="6.57" y="0" textLength="7.35" font-size="14.2" lengthAdjust="spacingAndGlyphs" fill="#2e2e2e" stroke="#2e2e2e" stroke-width="0.3">7</text><text x="16.08" y="0" textLength="8.54" font-size="14.2" lengthAdjust="spacingAndGlyphs" fill="#2e2e2e" stroke="#2e2e2e" stroke-width="0.3">÷</text><text x="26.77" y="0" textLength="7.35" font-size="14.2" lengthAdjust="spacingAndGlyphs" fill="#2e2e2e" stroke="#2e2e2e" stroke-width="0.3">7</text><text x="34.21" y="0" textLength="7.05" font-size="14.2" lengthAdjust="spacingAndGlyphs" fill="#2e2e2e" stroke="#2e2e2e" stroke-width="0.3">3</text></g>
<line x1="334.4" y1="763.7" x2="443.5" y2="763.7" stroke="#545454" stroke-width="1.2" />
<polygon points="389.5,763.7 377.90,761.40 377.90,766.00" fill="#383838"/>
<polygon points="431.8,763.7 443.50,766.00 443.50,761.40" fill="#383838"/>
<g transform="translate(334.4 762.2)"><text x="-0.62" y="0" textLength="7.37" font-size="14.2" lengthAdjust="spacingAndGlyphs" fill="#2e2e2e" stroke="#2e2e2e" stroke-width="0.3">9</text><text x="6.87" y="0" textLength="7.18" font-size="14.2" lengthAdjust="spacingAndGlyphs" fill="#2e2e2e" stroke="#2e2e2e" stroke-width="0.3">5</text><text x="16.38" y="0" textLength="8.70" font-size="14.2" lengthAdjust="spacingAndGlyphs" fill="#2e2e2e" stroke="#2e2e2e" stroke-width="0.3">÷</text><path d="M31.33,0 V-9.45 L28.96,-7.15" stroke="#2e2e2e" stroke-width="1.5" fill="none" stroke-linejoin="miter"/><text x="34.85" y="0" textLength="7.12" font-size="14.2" lengthAdjust="spacingAndGlyphs" fill="#2e2e2e" stroke="#2e2e2e" stroke-width="0.3">0</text><path d="M46.10,0 V-9.45 L43.73,-7.15" stroke="#2e2e2e" stroke-width="1.5" fill="none" stroke-linejoin="miter"/></g>
</svg></body></html>
